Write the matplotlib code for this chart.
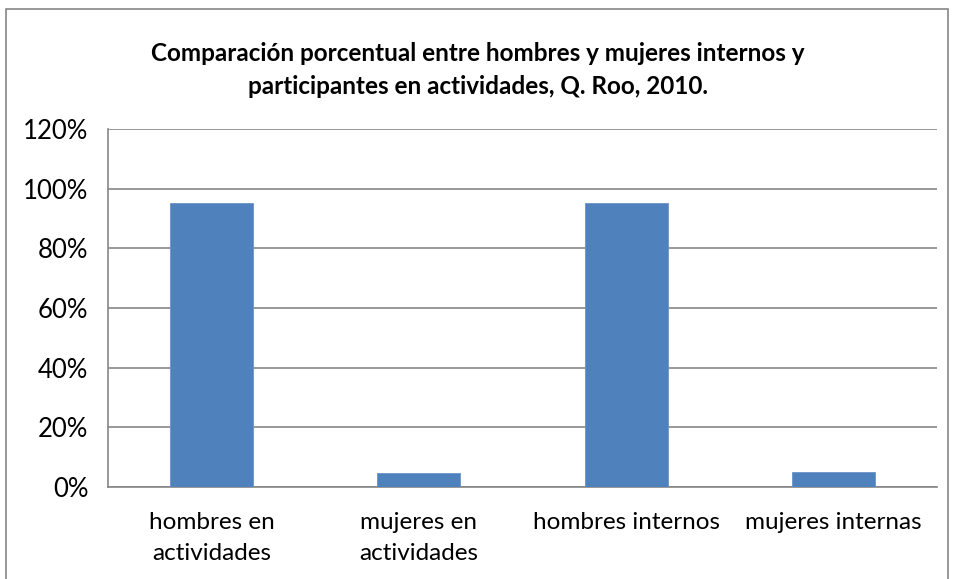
import matplotlib.pyplot as plt
from matplotlib.patches import Rectangle
from matplotlib.ticker import FuncFormatter
import numpy as np

categories = ["hombres en\nactividades", "mujeres en\nactividades",
              "hombres internos", "mujeres internas"]
values = [0.953, 0.047, 0.951, 0.049]
yticks = [0, 0.2, 0.4, 0.6, 0.8, 1.0, 1.2]

plt.rcParams['font.family'] = ['Lato', 'DejaVu Sans']

fig = plt.figure(figsize=(9.56, 5.79), dpi=100)
ax = fig.add_axes([108 / 956, 1 - 487 / 579, (937 - 108) / 956, (487 - 129) / 579])

x = np.arange(len(categories))
ax.bar(x, values, width=0.4, color="#4f81bd", edgecolor="#6a93c8", linewidth=0.6, zorder=3)

ax.set_xlim(-0.5, len(categories) - 0.5)
ax.set_ylim(0, 1.2)
ax.set_yticks(yticks)
ax.yaxis.set_major_formatter(FuncFormatter(lambda v, p: f"{v * 100:.0f}%"))
ax.set_xticks(x)
ax.set_xticklabels(categories, fontsize=17.5, linespacing=1.6)
ax.tick_params(axis="y", labelsize=18.5, length=0, pad=14)
ax.tick_params(axis="x", length=0, pad=18)
ax.grid(axis="y", color="#868686", linewidth=1.2, zorder=0)

for side in ["top", "right"]:
    ax.spines[side].set_visible(False)
for side in ["left", "bottom"]:
    ax.spines[side].set_color("#868686")
    ax.spines[side].set_linewidth(1.2)

fig.text(0.5, 1 - 70 / 579, "Comparación porcentual entre hombres y mujeres internos y\n"
         "participantes en actividades, Q. Roo, 2010.",
         ha="center", va="center", fontsize=17.5, fontweight="bold", linespacing=1.55)

fig.patches.append(Rectangle((6 / 956, -0.05), 942 / 956, 1.05 - 9 / 579,
                             transform=fig.transFigure, fill=False,
                             edgecolor="#868686", linewidth=1.2))

fig.savefig("out.png", dpi=100)
plt.close()
